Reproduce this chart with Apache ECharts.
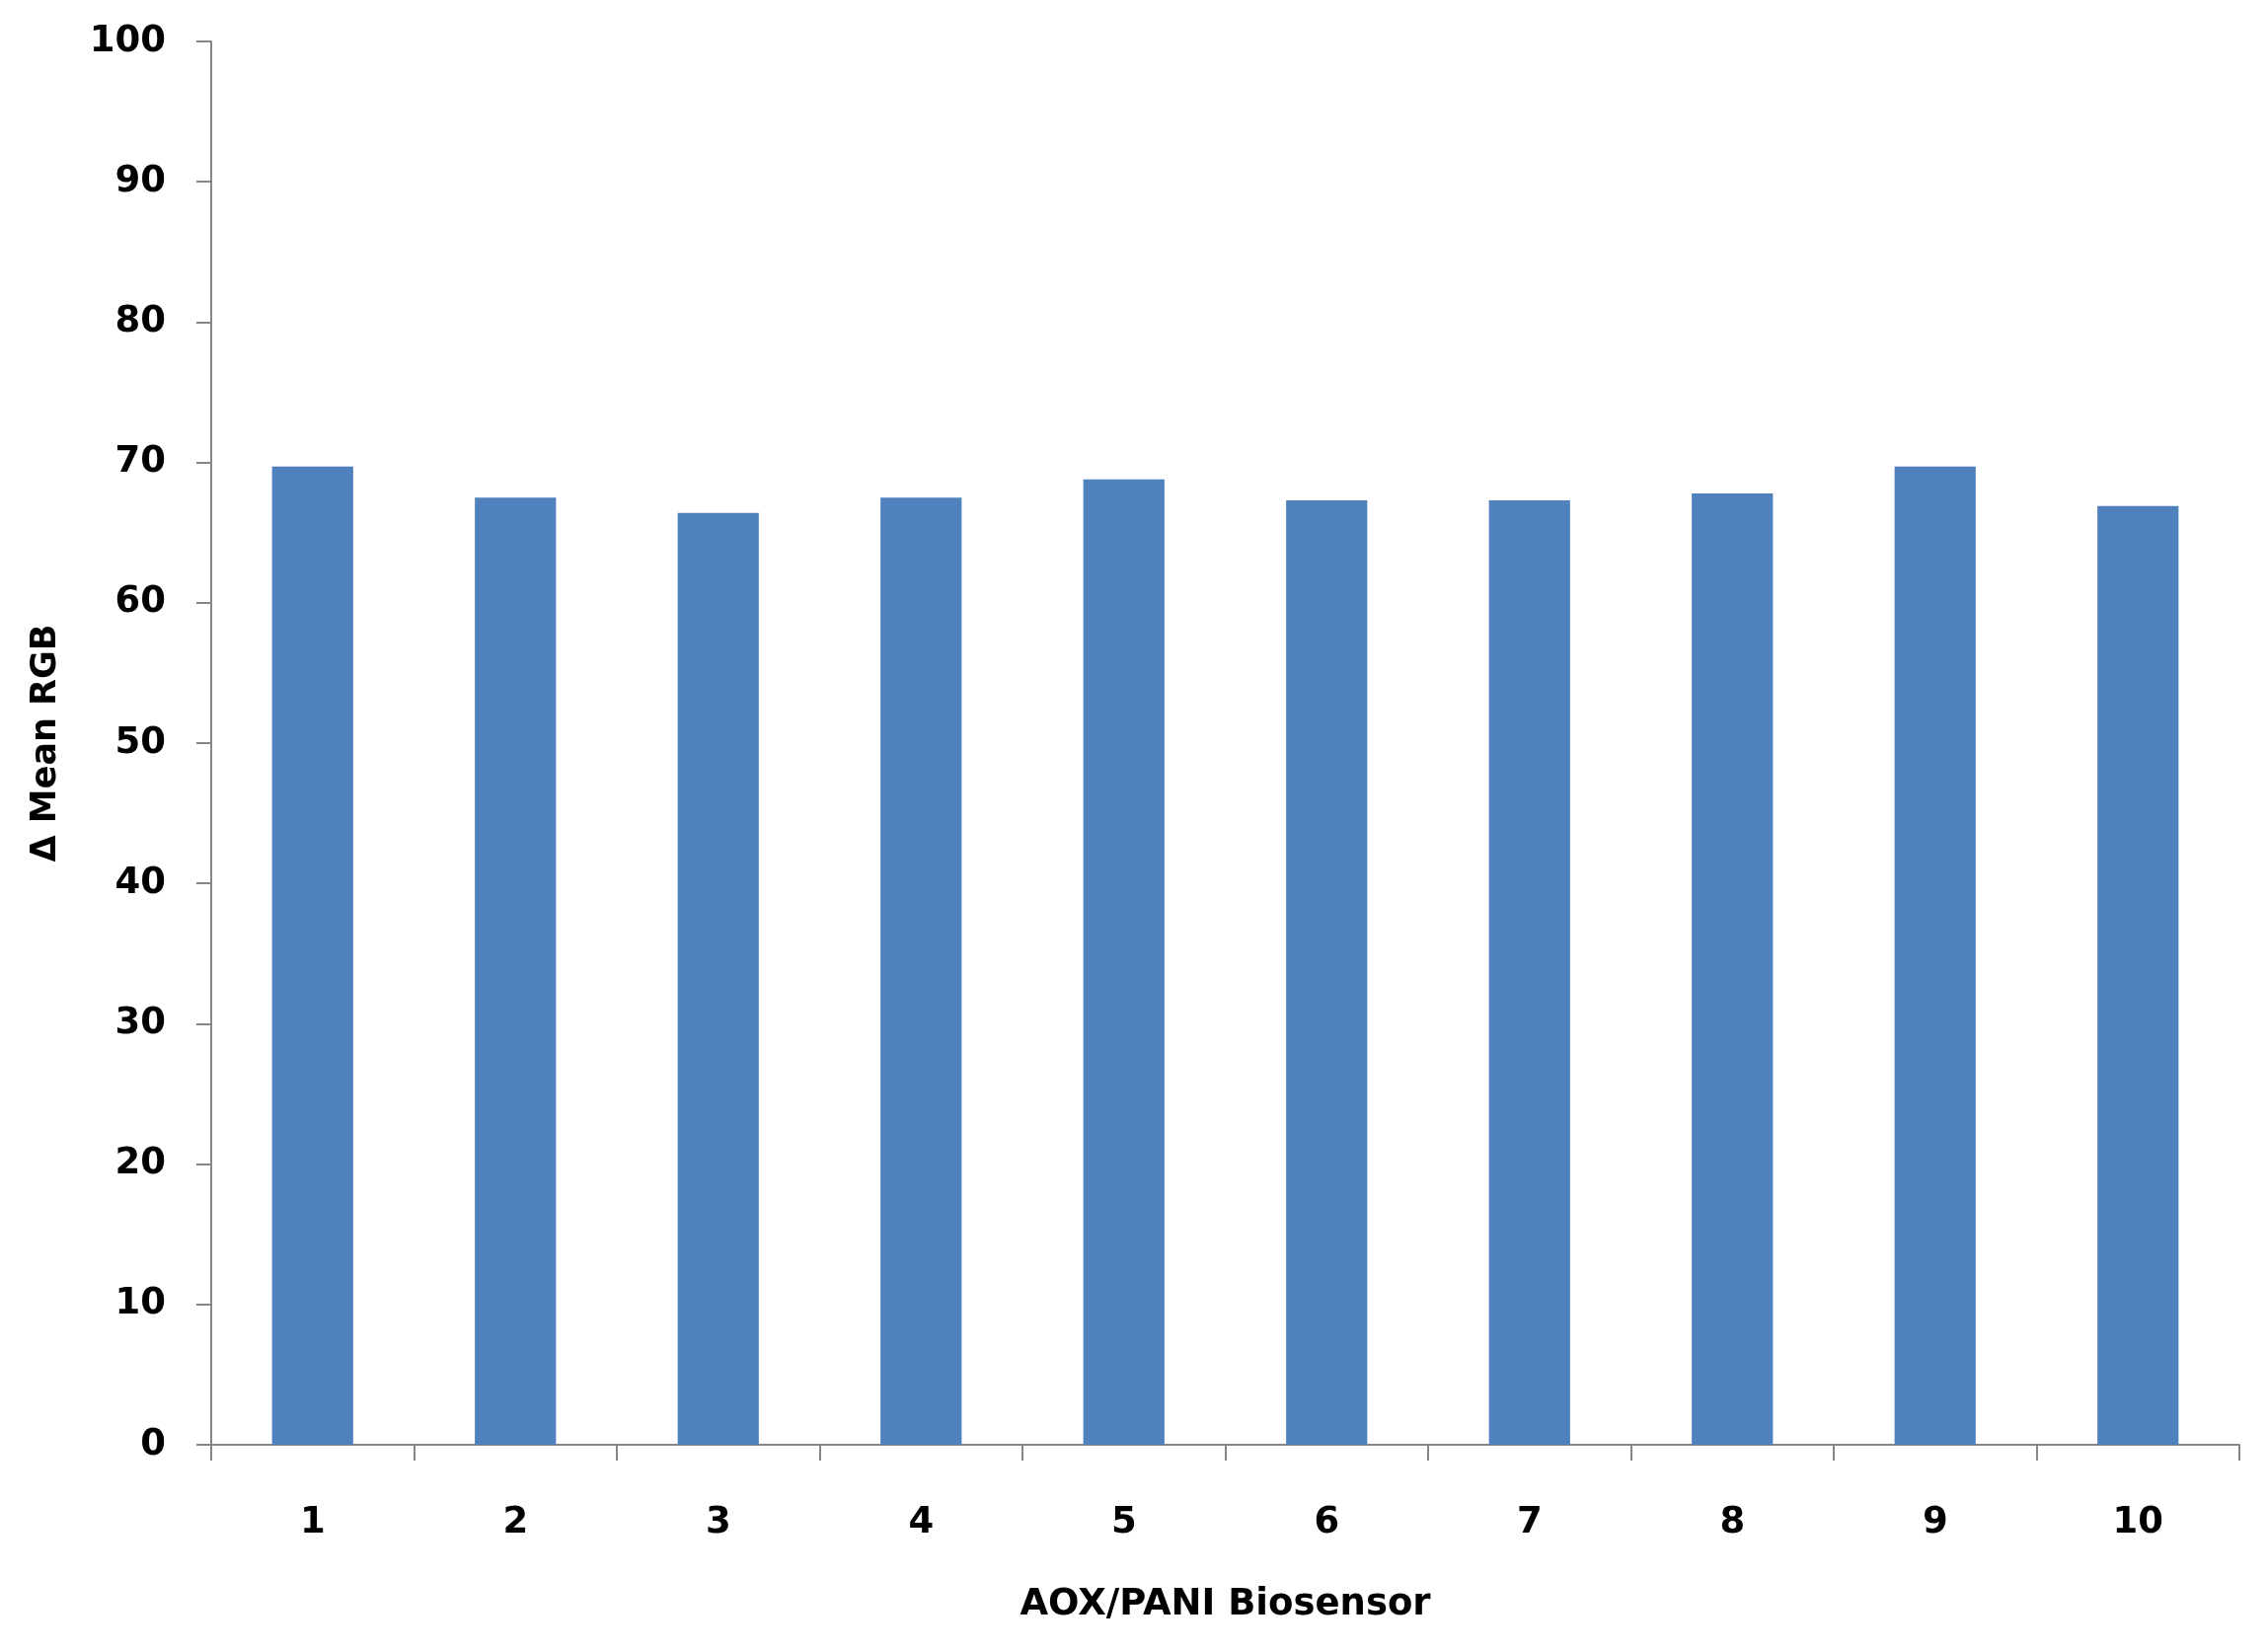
<!DOCTYPE html>
<html>
<head>
<meta charset="utf-8">
<script src="https://cdn.jsdelivr.net/npm/echarts@6/dist/echarts.min.js"></script>
<style>
  html, body { margin: 0; padding: 0; background: #fff; }
  #chart { width: 2297px; height: 1674px; }
</style>
</head>
<body>
<div id="chart"></div>
<script>
// sensor numbers along the x axis
const sensors = ['1', '2', '3', '4', '5', '6', '7', '8', '9', '10']
// Δ mean RGB
const meanRgb = [69.7, 67.5, 66.4, 67.5, 68.8, 67.3, 67.3, 67.8, 69.7, 66.9]
const yTicks = [0, 10, 20, 30, 40, 50, 60, 70, 80, 90, 100]

const chart = echarts.init(document.getElementById('chart'))
const axisGray = '#868686'
const font = 'DejaVu Sans'

const option = {
  backgroundColor: '#fff',
  animation: false,
  grid: {
    left: 214,
    right: 28,
    top: 42,
    bottom: 210
  },
  xAxis: {
    type: 'category',
    data: sensors,
    name: 'AOX/PANI Biosensor',
    nameLocation: 'middle',
    nameGap: 144,
    nameTextStyle: {
      color: '#000',
      fontFamily: font,
      fontWeight: 'bold',
      fontSize: 37
    },
    axisLine: { lineStyle: { color: axisGray, width: 2 } },
    axisTick: { show: true, length: 16, lineStyle: { color: axisGray, width: 2 } },
    axisLabel: {
      margin: 61,
      color: '#000',
      fontFamily: font,
      fontWeight: 'bold',
      fontSize: 37
    }
  },
  yAxis: {
    type: 'value',
    min: yTicks[0],
    max: yTicks[yTicks.length - 1],
    interval: 10,
    name: 'Δ Mean RGB',
    nameLocation: 'middle',
    nameGap: 150,
    nameTextStyle: {
      color: '#000',
      fontFamily: font,
      fontWeight: 'bold',
      fontSize: 35
    },
    axisLine: { show: true, lineStyle: { color: axisGray, width: 2 } },
    axisTick: { show: true, length: 15, lineStyle: { color: axisGray, width: 2 } },
    splitLine: { show: false },
    axisLabel: {
      margin: 46,
      color: '#000',
      fontFamily: font,
      fontWeight: 'bold',
      fontSize: 37
    }
  },
  series: [{
    type: 'bar',
    data: meanRgb,
    barCategoryGap: '60%',
    itemStyle: { color: '#4F81BD' }
  }]
}
chart.setOption(option)
</script>
</body>
</html>
